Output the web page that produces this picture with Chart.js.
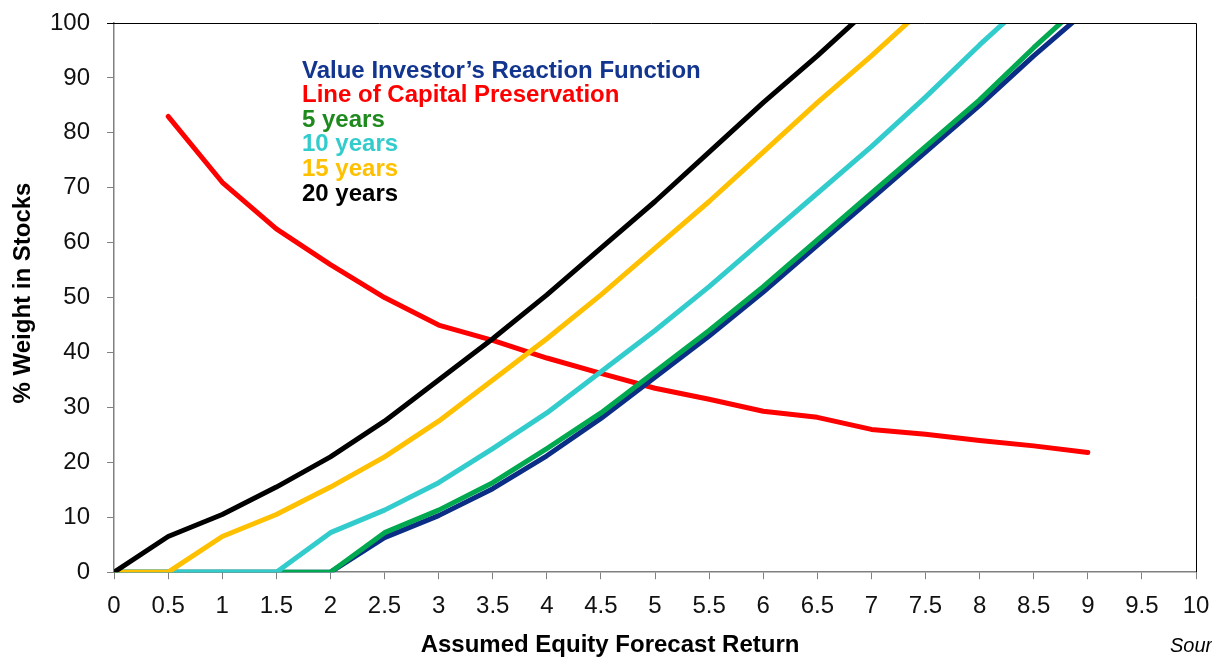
<!DOCTYPE html>
<html>
<head>
<meta charset="utf-8">
<script src="https://cdn.jsdelivr.net/npm/chart.js@4.4.1/dist/chart.umd.min.js"></script>
<style>
  html, body { margin: 0; padding: 0; background: #fff; }
  #wrap { width: 1212px; height: 657px; }
</style>
</head>
<body>
<div id="wrap"><canvas id="myChart" width="1212" height="657"></canvas></div>
<script>
// x axis: assumed equity forecast return
const xValues = [0, 0.5, 1, 1.5, 2, 2.5, 3, 3.5, 4, 4.5, 5, 5.5, 6, 6.5, 7, 7.5, 8, 8.5, 9];

const valueInvestor = [0, 0, 0, 0, 0, 6.3, 10.3, 15.2, 21.2, 28, 35.5, 43, 51, 59.5, 68, 76.5, 85, 94, 102.5];
const capitalPreservation = [null, 83, 71, 62.5, 56, 50, 45, 42.2, 39, 36.2, 33.5, 31.5, 29.3, 28.2, 26, 25.1, 24, 23, 21.8];
const fiveYears = [0, 0, 0, 0, 0, 7.2, 11.3, 16.3, 22.5, 29, 36.5, 44, 52, 60.5, 69, 77.5, 86, 95.5, 104.5];
const tenYears = [0, 0, 0, 0, 7.2, 11.3, 16.3, 22.5, 29, 36.5, 44, 52, 60.5, 69, 77.5, 86.5, 96, 105, null];
const fifteenYears = [0, 0, 6.5, 10.5, 15.5, 21, 27.5, 35, 42.5, 50.5, 59, 67.5, 76.5, 85.5, 94, 103, null, null, null];
const twentyYears = [0, 6.5, 10.5, 15.5, 21, 27.5, 35, 42.5, 50.5, 59, 67.5, 76.5, 85.5, 94, 103, null, null, null, null];

const seriesLabels = ['Value Investor\u2019s Reaction Function', 'Line of Capital Preservation', '5 years', '10 years', '15 years', '20 years'];
const seriesColors = ['#0B2D86', '#FF0000', '#00A84F', '#33CCCC', '#FFC000', '#000000'];
const legendTextColors = ['#12358F', '#FF0000', '#1E8A1E', '#33CCCC', '#FFC000', '#000000'];

const FONT = '"Liberation Sans", Arial, sans-serif';

function toPoints(values) {
    return xValues.map((x, i) => ({ x: x, y: values[i] }));
}

function makeDataset(i, values, order) {
    return {
        label: seriesLabels[i],
        data: toPoints(values),
        borderColor: seriesColors[i],
        backgroundColor: seriesColors[i],
        borderWidth: 5,
        pointRadius: 0,
        tension: 0,
        fill: false,
        spanGaps: false,
        clip: 0,
        order: order,
        borderCapStyle: 'round',
        borderJoinStyle: 'round'
    };
}

const framePlugin = {
    id: 'frame',
    afterDraw(chart) {
        const ctx = chart.ctx;
        const a = chart.chartArea;
        ctx.save();
        ctx.strokeStyle = '#000';
        ctx.lineWidth = 1;
        ctx.beginPath();
        ctx.moveTo(a.left - 7, a.top + 0.5);
        ctx.lineTo(a.right + 0.5, a.top + 0.5);
        ctx.lineTo(a.right + 0.5, a.bottom);
        ctx.stroke();

        // legend as coloured text
        ctx.font = 'bold 24px ' + FONT;
        ctx.textBaseline = 'middle';
        ctx.textAlign = 'left';
        for (let i = 0; i < seriesLabels.length; i++) {
            ctx.fillStyle = legendTextColors[i];
            ctx.fillText(seriesLabels[i], 302, 71 + i * 24.6);
        }

        // axis titles
        ctx.fillStyle = '#000';
        ctx.textAlign = 'center';
        ctx.font = 'bold 24px ' + FONT;
        ctx.fillText('Assumed Equity Forecast Return', 610, 645);

        ctx.save();
        ctx.translate(23, 293);
        ctx.rotate(-Math.PI / 2);
        ctx.font = 'bold 24px ' + FONT;
        ctx.fillText('% Weight in Stocks', 0, 0);
        ctx.restore();

        ctx.textAlign = 'left';
        ctx.font = 'italic 20px ' + FONT;
        ctx.fillText('Source', 1170, 646);
        ctx.restore();
    }
};

function createChart() {
    const ctx = document.getElementById('myChart').getContext('2d');
    new Chart(ctx, {
        type: 'line',
        data: {
            datasets: [
                makeDataset(0, valueInvestor, 4),
                makeDataset(1, capitalPreservation, 5),
                makeDataset(2, fiveYears, 3),
                makeDataset(3, tenYears, 2),
                makeDataset(4, fifteenYears, 1),
                makeDataset(5, twentyYears, 0)
            ]
        },
        options: {
            responsive: false,
            animation: false,
            layout: { padding: { left: 33, right: 16, top: 23, bottom: 23 } },
            plugins: {
                legend: { display: false },
                tooltip: { enabled: false }
            },
            scales: {
                x: {
                    type: 'linear',
                    min: 0,
                    max: 10,
                    afterFit: scale => { scale.paddingRight = 0; scale.paddingLeft = 0; },
                    ticks: {
                        stepSize: 0.5,
                        color: '#111',
                        padding: 13,
                        maxRotation: 0,
                        autoSkip: false,
                        font: { family: FONT, size: 24 },
                        callback: value => value.toString()
                    },
                    grid: { drawOnChartArea: false, drawTicks: true, tickLength: 7, color: '#808080' },
                    border: { color: '#808080', width: 1.5 }
                },
                y: {
                    min: 0,
                    max: 100,
                    afterFit: scale => { scale.paddingTop = 0; scale.paddingBottom = 0; },
                    ticks: {
                        stepSize: 10,
                        color: '#111',
                        padding: 17,
                        font: { family: FONT, size: 24 }
                    },
                    grid: { drawOnChartArea: false, drawTicks: true, tickLength: 7, color: '#808080' },
                    border: { color: '#808080', width: 1.5 }
                }
            }
        },
        plugins: [framePlugin]
    });
}

createChart();
</script>
</body>
</html>
